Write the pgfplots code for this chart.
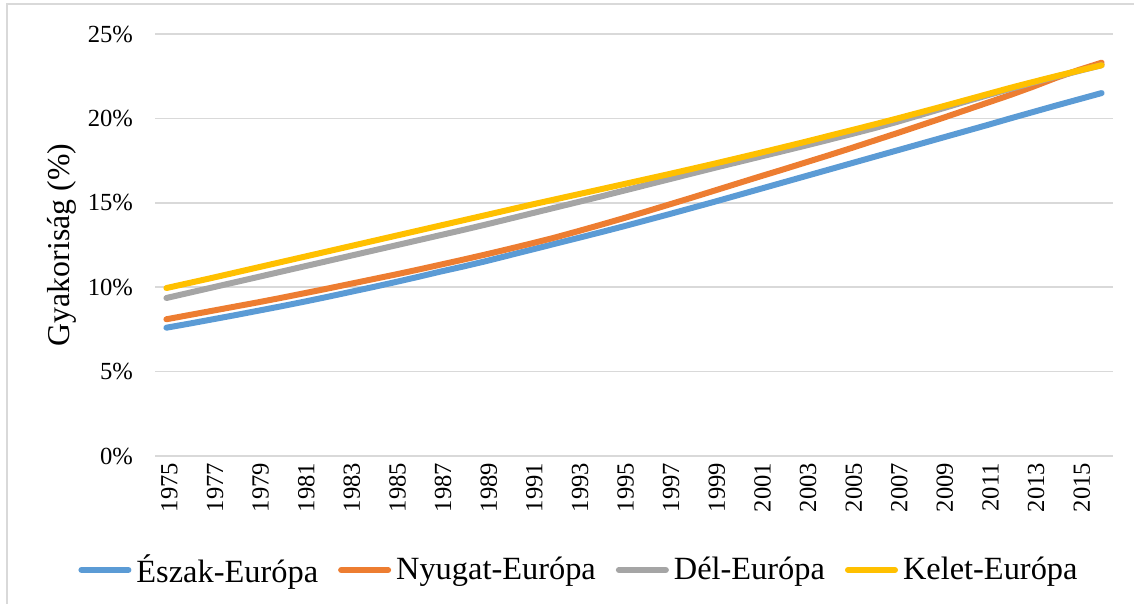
\documentclass[border=0pt]{standalone}
\usepackage{pgfplots}
\pgfplotsset{compat=1.18}
\usepackage{fontspec}
\setmainfont{Liberation Serif}
\definecolor{cBlue}{HTML}{5B9BD5}
\definecolor{cOrange}{HTML}{ED7D31}
\definecolor{cGray}{HTML}{A5A5A5}
\definecolor{cYellow}{HTML}{FFC000}
\definecolor{cGrid}{HTML}{D9D9D9}
\begin{document}
\begin{tikzpicture}
\useasboundingbox (0,0) rectangle (567pt,302pt);
\draw[cGrid, line width=0.8pt] (3.5pt,-5pt) -- (3.5pt,300pt) -- (575pt,300pt);
\begin{axis}[
  at={(77.5pt,74pt)}, anchor=south west,
  scale only axis, width=479pt, height=211pt,
  xmin=1974.5, xmax=2016.5, ymin=0, ymax=25,
  xtick={1975,1977,...,2015},
  ytick={0,5,...,25},
  /pgf/number format/assume math mode=true,
  xticklabel={\pgfmathprintnumber[1000 sep={}]{\tick}},
  yticklabel={\pgfmathprintnumber{\tick}\%},
  x tick label style={rotate=90, anchor=east, font=\fontsize{12.3}{14}\selectfont, yshift=-1.5pt, xshift=0pt},
  y tick label style={font=\fontsize{12.3}{14}\selectfont, xshift=-7.5pt},
  major tick length=0pt,
  axis line style={draw=none},
  ymajorgrids, grid style={cGrid, line width=0.8pt},
  ylabel={Gyakoriság (\%)},
  every axis y label/.style={at={(axis description cs:-0.097,0.5)}, rotate=90, anchor=center, font=\fontsize{15.9}{18}\selectfont},
  legend columns=-1,
  legend style={at={(axis description cs:0.4436,-0.27)}, anchor=center, draw=none, fill=none,
    font=\fontsize{16.2}{18}\selectfont,
    /tikz/every odd column/.append style={column sep=0.5pt},
    /tikz/every even column/.append style={column sep=8pt}},
  legend image code/.code={\draw[#1, line width=3pt, line cap=round] (0pt,0pt) -- (23.5pt,0pt);},
  every axis plot/.append style={line width=3pt, line cap=round, line join=round, mark=none},
]
\addplot[cBlue] coordinates {
(1975,7.60)(1976,7.84)(1977,8.09)(1978,8.34)(1979,8.60)(1980,8.86)(1981,9.13)(1982,9.41)
(1983,9.70)(1984,9.99)(1985,10.29)(1986,10.60)(1987,10.92)(1988,11.22)(1989,11.54)(1990,11.88)
(1991,12.22)(1992,12.56)(1993,12.90)(1994,13.24)(1995,13.59)(1996,13.95)(1997,14.31)(1998,14.68)
(1999,15.05)(2000,15.43)(2001,15.81)(2002,16.19)(2003,16.57)(2004,16.95)(2005,17.33)(2006,17.71)
(2007,18.09)(2008,18.47)(2009,18.85)(2010,19.23)(2011,19.61)(2012,20.00)(2013,20.38)(2014,20.76)
(2015,21.13)(2016,21.50)};
\addlegendentry{Észak-Európa}
\addplot[cOrange] coordinates {
(1975,8.10)(1976,8.35)(1977,8.60)(1978,8.85)(1979,9.10)(1980,9.36)(1981,9.63)(1982,9.90)
(1983,10.18)(1984,10.46)(1985,10.74)(1986,11.03)(1987,11.33)(1988,11.63)(1989,11.94)(1990,12.26)
(1991,12.59)(1992,12.93)(1993,13.30)(1994,13.68)(1995,14.07)(1996,14.47)(1997,14.88)(1998,15.29)
(1999,15.71)(2000,16.13)(2001,16.55)(2002,16.96)(2003,17.38)(2004,17.80)(2005,18.23)(2006,18.67)
(2007,19.11)(2008,19.56)(2009,20.01)(2010,20.47)(2011,20.93)(2012,21.39)(2013,21.88)(2014,22.40)
(2015,22.87)(2016,23.30)};
\addlegendentry{Nyugat-Európa}
\addplot[cGray] coordinates {
(1975,9.36)(1976,9.67)(1977,9.98)(1978,10.29)(1979,10.60)(1980,10.91)(1981,11.22)(1982,11.53)
(1983,11.84)(1984,12.15)(1985,12.46)(1986,12.77)(1987,13.08)(1988,13.39)(1989,13.71)(1990,14.04)
(1991,14.37)(1992,14.70)(1993,15.03)(1994,15.36)(1995,15.70)(1996,16.04)(1997,16.38)(1998,16.72)
(1999,17.06)(2000,17.39)(2001,17.72)(2002,18.05)(2003,18.38)(2004,18.72)(2005,19.06)(2006,19.41)
(2007,19.78)(2008,20.18)(2009,20.58)(2010,20.98)(2011,21.37)(2012,21.75)(2013,22.12)(2014,22.47)
(2015,22.81)(2016,23.15)};
\addlegendentry{Dél-Európa}
\addplot[cYellow] coordinates {
(1975,9.95)(1976,10.25)(1977,10.55)(1978,10.86)(1979,11.17)(1980,11.48)(1981,11.79)(1982,12.10)
(1983,12.41)(1984,12.72)(1985,13.03)(1986,13.34)(1987,13.65)(1988,13.96)(1989,14.27)(1990,14.58)
(1991,14.89)(1992,15.19)(1993,15.49)(1994,15.79)(1995,16.09)(1996,16.39)(1997,16.69)(1998,17.00)
(1999,17.31)(2000,17.63)(2001,17.95)(2002,18.28)(2003,18.61)(2004,18.95)(2005,19.29)(2006,19.63)
(2007,19.98)(2008,20.34)(2009,20.70)(2010,21.07)(2011,21.44)(2012,21.81)(2013,22.16)(2014,22.50)
(2015,22.83)(2016,23.15)};
\addlegendentry{Kelet-Európa}
\end{axis}
\end{tikzpicture}
\end{document}
